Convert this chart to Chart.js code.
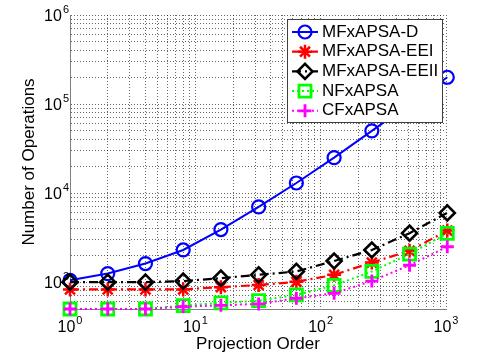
<!DOCTYPE html>
<html>
<head>
<meta charset="utf-8">
<script src="https://cdn.jsdelivr.net/npm/chart.js@4/dist/chart.umd.min.js"></script>
<style>
  html, body { margin: 0; padding: 0; background: #fff; }
  #wrap { width: 481px; height: 354px; }
</style>
</head>
<body>
<div id="wrap"><canvas id="myChart" width="481" height="354"></canvas></div>
<script>
// projection orders (x) and operation counts per method (y)
const orders   = [1, 2, 4, 8, 16, 32, 64, 128, 256, 512, 1024];
const mfD      = [1050, 1250, 1620, 2300, 3900, 7000, 13000, 25000, 50000, 100000, 200000];
const mfEEI    = [830, 830, 830, 830, 880, 930, 1010, 1210, 1660, 2250, 3800];
const mfEEII   = [1000, 1000, 1000, 1030, 1110, 1210, 1320, 1730, 2300, 3550, 6000];
const nf       = [500, 500, 500, 545, 585, 620, 720, 920, 1320, 2070, 3540];
const cf       = [500, 500, 500, 530, 550, 570, 660, 750, 1030, 1550, 2500];
const seriesNames = ['MFxAPSA-D', 'MFxAPSA-EEI', 'MFxAPSA-EEII', 'NFxAPSA', 'CFxAPSA'];
const xTickExps = [0, 1, 2, 3];
const yTickExps = [3, 4, 5, 6];
const xTitle = 'Projection Order';
const yTitle = 'Number of Operations';

const FONT = '"Liberation Sans", Arial, sans-serif';

function pts(vals) {
  return orders.map((x, i) => ({ x: x, y: vals[i] }));
}

// log grid at 1..9 x 10^e between lo and hi
function logTicks(lo, hi) {
  const out = [];
  for (let e = Math.floor(Math.log10(lo)); e <= Math.ceil(Math.log10(hi)); e++) {
    for (let k = 1; k <= 9; k++) {
      const v = k * Math.pow(10, e);
      if (v >= lo - 1e-9 && v <= hi + 1e-9) out.push({ value: v });
    }
  }
  return out;
}

function drawPow(ctx, x, baseline, e, align) {
  ctx.font = '16px ' + FONT;
  const wb = ctx.measureText('10').width;
  ctx.font = '11px ' + FONT;
  const we = ctx.measureText(String(e)).width;
  const total = wb + 1 + we;
  const left = align === 'center' ? x - total / 2 : x - total;
  ctx.textAlign = 'left';
  ctx.textBaseline = 'alphabetic';
  ctx.font = '16px ' + FONT;
  ctx.fillText('10', left, baseline);
  ctx.font = '11px ' + FONT;
  ctx.fillText(String(e), left + wb + 1, baseline - 8);
}

const matlabText = {
  id: 'matlabText',
  afterDraw(chart) {
    const ctx = chart.ctx;
    const xs = chart.scales.x, ys = chart.scales.y;
    const area = chart.chartArea;
    ctx.save();
    ctx.fillStyle = '#000';
    xTickExps.forEach(e => {
      drawPow(ctx, xs.getPixelForValue(Math.pow(10, e)), area.bottom + 23, e, 'center');
    });
    yTickExps.forEach(e => {
      drawPow(ctx, area.left - 1, ys.getPixelForValue(Math.pow(10, e)) + 6, e, 'right');
    });
    // axis titles
    ctx.font = '17px ' + FONT;
    ctx.textAlign = 'center';
    ctx.textBaseline = 'alphabetic';
    ctx.fillText(xTitle, (area.left + area.right) / 2, area.bottom + 40);
    ctx.save();
    ctx.translate(29, (area.top + area.bottom) / 2);
    ctx.rotate(-Math.PI / 2);
    ctx.textBaseline = 'middle';
    ctx.fillText(yTitle, 0, 0);
    ctx.restore();

    // legend box, matlab style (line + marker)
    const bx = area.right - 159, by = area.top + 4, bw = 155, bh = 103;
    ctx.fillStyle = '#fff';
    ctx.fillRect(bx, by, bw, bh);
    ctx.strokeStyle = '#404040';
    ctx.lineWidth = 1;
    ctx.strokeRect(bx + 0.5, by + 0.5, bw, bh);
    chart.data.datasets.forEach((ds, i) => {
      const y = by + 13 + i * 19.7;
      const x0 = bx + 5, x1 = bx + 31, xm = (x0 + x1) / 2;
      ctx.save();
      ctx.strokeStyle = ds.borderColor;
      ctx.lineWidth = ds.borderWidth;
      ctx.setLineDash(ds.borderDash || []);
      ctx.beginPath();
      ctx.moveTo(x0, y);
      ctx.lineTo(x1, y);
      ctx.stroke();
      ctx.setLineDash([]);
      ctx.lineWidth = ds.pointBorderWidth;
      ctx.fillStyle = 'rgba(0,0,0,0)';
      Chart.helpers.drawPoint(ctx, {
        pointStyle: ds.pointStyle,
        radius: ds.pointRadius,
        rotation: 0,
        borderWidth: ds.pointBorderWidth
      }, xm, y);
      ctx.restore();
      ctx.fillStyle = '#000';
      ctx.font = '17px ' + FONT;
      ctx.textAlign = 'left';
      ctx.textBaseline = 'middle';
      ctx.fillText(seriesNames[i], bx + 35, y);
    });
    ctx.restore();
  }
};

const common = {
  fill: false,
  tension: 0,
  clip: false,
  pointBackgroundColor: 'rgba(0,0,0,0)',
  backgroundColor: 'rgba(0,0,0,0)'
};

new Chart(document.getElementById('myChart').getContext('2d'), {
  type: 'line',
  data: {
    datasets: [
      Object.assign({}, common, {
        label: seriesNames[0], data: pts(mfD), order: 5,
        borderColor: '#0000ff', pointBorderColor: '#0000ff', borderWidth: 2,
        pointStyle: 'circle', pointRadius: 6.5, pointBorderWidth: 2.2
      }),
      Object.assign({}, common, {
        label: seriesNames[1], data: pts(mfEEI), order: 4,
        borderColor: '#ff0000', pointBorderColor: '#ff0000', borderWidth: 2.2, borderDash: [9, 4, 2, 4],
        pointStyle: 'star', pointRadius: 7, pointBorderWidth: 2.5
      }),
      Object.assign({}, common, {
        label: seriesNames[2], data: pts(mfEEII), order: 3,
        borderColor: '#000000', pointBorderColor: '#000000', borderWidth: 2.2, borderDash: [9, 4, 2, 4],
        pointStyle: 'rectRot', pointRadius: 7.5, pointBorderWidth: 2.6
      }),
      Object.assign({}, common, {
        label: seriesNames[3], data: pts(nf), order: 2,
        borderColor: '#00ff00', pointBorderColor: '#00ff00', borderWidth: 2, borderDash: [2, 3],
        pointStyle: 'rect', pointRadius: 8.5, pointBorderWidth: 2.8
      }),
      Object.assign({}, common, {
        label: seriesNames[4], data: pts(cf), order: 1,
        borderColor: '#ff00ff', pointBorderColor: '#ff00ff', borderWidth: 2, borderDash: [2, 3],
        pointStyle: 'cross', pointRadius: 6.5, pointBorderWidth: 2.8
      })
    ]
  },
  options: {
    responsive: false,
    animation: false,
    devicePixelRatio: 1,
    events: [],
    layout: { autoPadding: false, padding: { left: 70, right: 35, top: 15, bottom: 45 } },
    plugins: { legend: { display: false }, tooltip: { enabled: false } },
    scales: {
      x: {
        type: 'logarithmic', min: 1, max: 1000,
        afterBuildTicks: s => { s.ticks = logTicks(1, 1000); },
        ticks: { display: false },
        grid: { color: 'rgba(0,0,0,0.6)', lineWidth: 1, drawTicks: false },
        border: { display: true, color: '#7f7f7f', width: 1, dash: [1, 2] }
      },
      y: {
        type: 'logarithmic', min: 500, max: 1e6,
        afterBuildTicks: s => { s.ticks = logTicks(500, 1e6); },
        ticks: { display: false },
        grid: { color: 'rgba(0,0,0,0.6)', lineWidth: 1, drawTicks: false },
        border: { display: true, color: '#7f7f7f', width: 1, dash: [1, 2] }
      }
    }
  },
  plugins: [matlabText]
});
</script>
</body>
</html>
